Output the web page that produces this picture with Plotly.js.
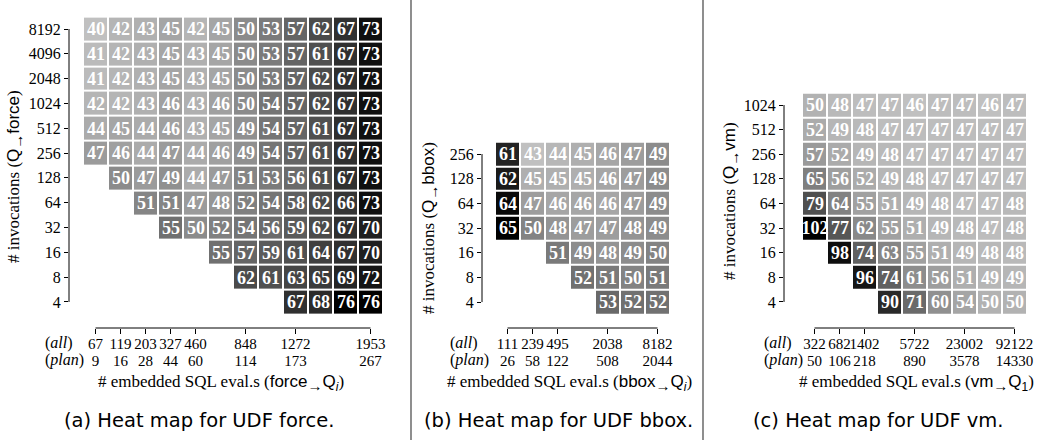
<!DOCTYPE html>
<html>
<head>
<meta charset="utf-8">
<script src="https://cdn.plot.ly/plotly-3.0.1.min.js"></script>
<style>html,body{margin:0;padding:0;background:#fff}#chart{width:1044px;height:443px}</style>
</head>
<body>
<div id="chart"></div>
<script>
// ---------- DATA ----------
// rows from bottom (4) to top
const forceRows = ['4','8','16','32','64','128','256','512','1024','2048','4096','8192'];
const forceZ = [
  [null,null,null,null,null,null,null,null,67,68,76,76],
  [null,null,null,null,null,null,62,61,63,65,69,72],
  [null,null,null,null,null,55,57,59,61,64,67,70],
  [null,null,null,55,50,52,54,56,59,62,67,70],
  [null,null,51,51,47,48,52,54,58,62,66,73],
  [null,50,47,49,44,47,51,53,56,61,67,73],
  [47,46,44,47,44,46,49,54,57,61,67,73],
  [44,45,44,46,43,45,49,54,57,61,67,73],
  [42,42,43,46,43,46,50,54,57,62,67,73],
  [41,42,43,45,43,45,50,53,57,62,67,73],
  [41,42,43,45,43,45,50,53,57,61,67,73],
  [40,42,43,45,42,45,50,53,57,62,67,73]
];
const forceTickCols = [0,1,2,3,4,6,8,11];
const forceAll  = [67,119,203,327,460,848,1272,1953];
const forcePlan = [9,16,28,44,60,114,173,267];

const bboxRows = ['4','8','16','32','64','128','256'];
const bboxZ = [
  [null,null,null,null,53,52,52],
  [null,null,null,52,51,50,51],
  [null,null,51,49,48,49,50],
  [65,50,48,47,47,48,49],
  [64,47,46,46,46,47,49],
  [62,45,45,45,46,47,49],
  [61,43,44,45,46,47,49]
];
const bboxTickCols = [0,1,2,4,6];
const bboxAll  = [111,239,495,2038,8182];
const bboxPlan = [26,58,122,508,2044];

const vmRows = ['4','8','16','32','64','128','256','512','1024'];
const vmZ = [
  [null,null,null,90,71,60,54,50,50],
  [null,null,96,74,61,56,51,49,49],
  [null,98,74,63,55,51,49,48,48],
  [102,77,62,55,51,49,48,47,48],
  [79,64,55,51,49,48,47,47,48],
  [65,56,52,49,48,47,47,47,47],
  [57,52,49,48,47,47,47,47,47],
  [52,49,48,47,47,47,47,47,47],
  [50,48,47,47,46,47,47,46,47]
];
const vmTickCols = [0,1,2,4,6,8];
const vmAll  = [322,682,1402,5722,23002,92122];
const vmPlan = [50,106,218,890,3578,14330];

// ---------- LAYOUT HELPERS ----------
const W = 1044, H = 443;
const fx = p => p / W;
const fy = p => 1 - p / H;
const SERIF = 'Liberation Serif';
const SANS = 'DejaVu Sans';
const TT = 'Liberation Sans';

const panels = [
  {name:'force', rows:forceRows, z:forceZ, tc:forceTickCols, all:forceAll, plan:forcePlan,
   xd:[69,383], yd:[16.6,328], xr:[-1.06,11.5], yr:[-1.05,11.5],
   ytitle:[15,177], xtitleX:221, capX:199, lblX:43, target:'Q<sub><i>i</i></sub>', cap:'(a) Heat map for UDF '},
  {name:'bbox', rows:bboxRows, z:bboxZ, tc:bboxTickCols, all:bboxAll, plan:bboxPlan,
   xd:[482,670], yd:[141.7,328], xr:[-1.02,6.5], yr:[-1.05,6.5],
   ytitle:[430,228], xtitleX:569, capX:558, lblX:448, target:'Q<sub><i>i</i></sub>', cap:'(b) Heat map for UDF '},
  {name:'vm', rows:vmRows, z:vmZ, tc:vmTickCols, all:vmAll, plan:vmPlan,
   xd:[784,1027], yd:[92.7,328], xr:[-1.22,8.5], yr:[-1.06,8.5],
   ytitle:[731,201], xtitleX:916, capX:878, lblX:762, target:'Q<sub>1</sub>', cap:'(c) Heat map for UDF '}
];

const data = [];
const layout = {
  width: W, height: H,
  margin: {l:0, r:0, t:0, b:0},
  paper_bgcolor: '#fff', plot_bgcolor: 'rgba(0,0,0,0)',
  showlegend: false,
  shapes: [], annotations: [],
  font: {family: SERIF, size: 16, color: '#000'}
};

const yTickFont = {family: SERIF, size: 16, color: '#000'};
const xTickFont = {family: SERIF, size: 15, color: '#000'};
const titleFont = {family: SERIF, size: 17, color: '#000'};
const arrow = '<sub><span style="font-size:15px">→</span></sub>';
const tt = s => '<span style="font-family:' + TT + '">' + s + '</span>';

panels.forEach((p, i) => {
  const n = i === 0 ? '' : String(i + 1);
  const xa = 'x' + n, ya = 'y' + n;
  const vals = p.z.flat().filter(v => v !== null);
  const zmin = Math.min(...vals), zmax = Math.max(...vals);
  const text = p.z.map(r => r.map(v => v === null ? '' : String(v)));
  data.push({
    type: 'heatmap',
    x: p.z[0].map((_, c) => c),
    y: p.rows,
    z: p.z,
    text: text,
    texttemplate: '<b>%{text}</b>',
    textfont: {family: SERIF, size: 18, color: '#fff'},
    zmin: zmin, zmax: zmax,
    colorscale: [[0, 'rgb(192,192,192)'], [1, 'rgb(0,0,0)']],
    showscale: false,
    xgap: 2, ygap: 2,
    hoverinfo: 'skip',
    xaxis: xa, yaxis: ya
  });
  // empty trace that attaches the overlaying "plan" label axis
  const pa = 'x' + (i + 4);
  data.push({type:'scatter', mode:'markers', x:[], y:[], xaxis:pa, yaxis:ya, hoverinfo:'skip', showlegend:false});

  layout['xaxis' + n] = {
    domain: [fx(p.xd[0]), fx(p.xd[1])], range: p.xr, anchor: ya,
    showgrid: false, zeroline: false, showline: false,
    tickmode: 'array', tickvals: p.tc, ticktext: p.all.map(String),
    ticks: 'outside', ticklen: 5, tickwidth: 1, tickcolor: '#000',
    ticklabelstandoff: -3,
    tickangle: 0, tickfont: xTickFont, fixedrange: true
  };
  layout['xaxis' + (i + 4)] = {
    overlaying: xa, anchor: ya, side: 'bottom', range: p.xr,
    showgrid: false, zeroline: false, showline: false,
    tickmode: 'array', tickvals: p.tc, ticktext: p.plan.map(String),
    ticks: '', ticklabelstandoff: 22,
    tickangle: 0, tickfont: xTickFont, fixedrange: true
  };
  layout['yaxis' + n] = {
    domain: [fy(p.yd[1]), fy(p.yd[0])], range: p.yr, anchor: xa,
    type: 'category',
    showgrid: false, zeroline: false, showline: false,
    ticks: 'outside', ticklen: 4, tickwidth: 1, tickcolor: '#000',
    tickfont: yTickFont, fixedrange: true
  };
  // range-frame axis lines
  layout.shapes.push({type:'line', xref: xa + ' domain', yref: ya, x0:0, x1:0, y0:0, y1:p.rows.length - 1,
    line:{color:'#000', width:1}});
  layout.shapes.push({type:'line', xref: xa, yref: ya + ' domain', x0:p.tc[0], x1:p.tc[p.tc.length - 1], y0:0, y1:0,
    line:{color:'#000', width:1}});

  layout.annotations.push({xref:'paper', yref:'paper', x:fx(p.ytitle[0]), y:fy(p.ytitle[1]), textangle:-90,
    showarrow:false, xanchor:'center', yanchor:'middle',
    text:'# invocations (' + tt('Q') + arrow + tt(p.name) + ')', font:titleFont});
  layout.annotations.push({xref:'paper', yref:'paper', x:fx(p.xtitleX), y:fy(383),
    showarrow:false, xanchor:'center', yanchor:'middle',
    text:'# embedded SQL eval.s (' + tt(p.name) + arrow + tt(p.target) + ')', font:titleFont});
  layout.annotations.push({xref:'paper', yref:'paper', x:fx(p.lblX), y:fy(343),
    showarrow:false, xanchor:'left', yanchor:'middle', text:'(<i>all</i>)', font:yTickFont});
  layout.annotations.push({xref:'paper', yref:'paper', x:fx(p.lblX), y:fy(360),
    showarrow:false, xanchor:'left', yanchor:'middle', text:'(<i>plan</i>)', font:yTickFont});
  layout.annotations.push({xref:'paper', yref:'paper', x:fx(p.capX), y:fy(420),
    showarrow:false, xanchor:'center', yanchor:'middle', text:p.cap + p.name + '.',
    font:{family:SANS, size:19.5, color:'#000'}});
});

// separators between the sub-figures
[411, 703].forEach(xp => {
  layout.shapes.push({type:'line', xref:'paper', yref:'paper', x0:fx(xp), x1:fx(xp), y0:fy(440), y1:1,
    line:{color:'#444', width:1.2}});
});

Plotly.newPlot('chart', data, layout, {displayModeBar:false, staticPlot:true});
</script>
</body>
</html>
